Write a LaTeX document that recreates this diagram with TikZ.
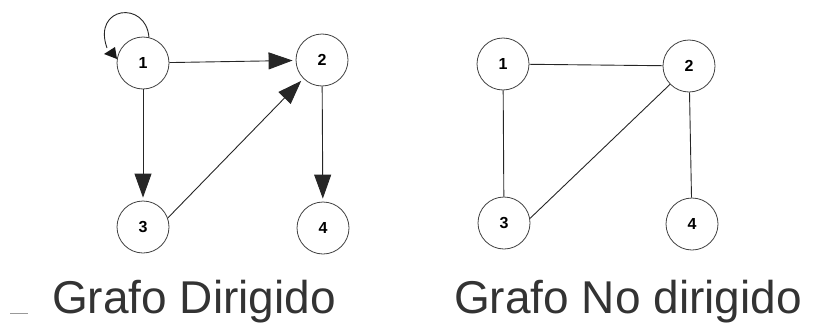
\documentclass[tikz,border=0pt]{standalone}
\usepackage{fontspec}
\setmainfont{Liberation Sans}
\usetikzlibrary{arrows.meta}
\begin{document}
\begin{tikzpicture}[x=1pt,y=-1pt,
  vertex/.style={circle,draw=black!75,line width=0.8pt,minimum size=52pt,inner sep=0pt,
    font=\fontsize{16}{16}\selectfont\bfseries},
  edge/.style={draw=black!85,line width=0.9pt},
  arc/.style={edge,-{Triangle[length=24pt,width=17pt]},shorten >=3pt},
  caption/.style={anchor=base west,inner sep=0pt,text=black!80,font=\fontsize{46}{55}\selectfont}]
\useasboundingbox (0,0) rectangle (818,324);
% directed graph
\node[vertex] (L1) at (143,63) {1};
\node[vertex] (L2) at (322,60) {2};
\node[vertex] (L3) at (143,227) {3};
\node[vertex] (L4) at (323,228) {4};
\draw[arc] (L1) -- (L2);
\draw[arc] (L1) -- (L3);
\draw[arc] (L3.20) -- (L2.225);
\draw[arc] (L2) -- (L4);
% self loop
\draw[edge] (L1.77) .. controls (146,0) and (92,6) .. (107,48);
\fill[black!90,shift={(L1)}] (-28,-16) -- (-26,-4) -- (-39,-9) -- cycle;
% undirected graph
\node[vertex] (R1) at (503,64) {1};
\node[vertex] (R2) at (689,66) {2};
\node[vertex] (R3) at (504,223) {3};
\node[vertex] (R4) at (692,224) {4};
\draw[edge] (R1) -- (R2);
\draw[edge] (R1) -- (R3);
\draw[edge] (R3.10) -- (R2.224);
\draw[edge] (R2) -- (R4);
% captions
\node[caption] (capL) at (52,313) {Grafo Dirigido};
\node[caption] (capR) at (454,313) {Grafo No dirigido};
\draw[black!40,line width=1pt] (10,313) -- (28,313);
\end{tikzpicture}
\end{document}
